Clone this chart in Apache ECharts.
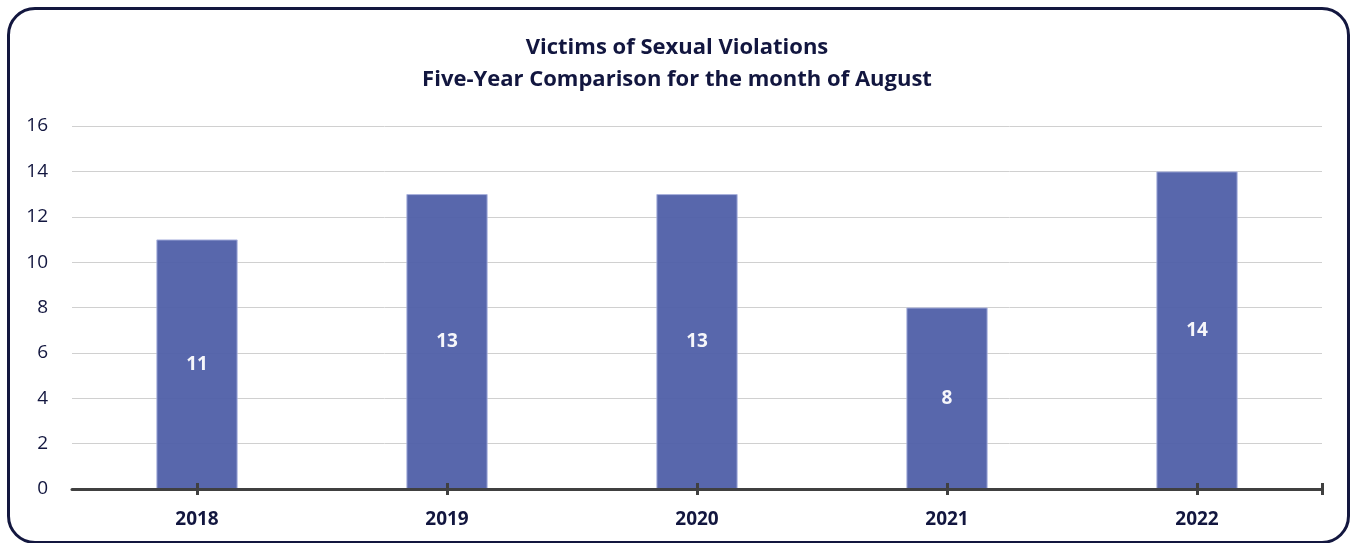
<!DOCTYPE html>
<html>
<head>
<meta charset="utf-8">
<script src="https://cdn.jsdelivr.net/npm/echarts@6/dist/echarts.min.js"></script>
<style>
html,body{margin:0;padding:0;background:#fff;}
#wrap{position:relative;width:1354px;height:543px;}
#chart{position:absolute;left:0;top:0;width:1354px;height:543px;}
#frame{position:absolute;left:7px;top:7px;width:1337px;height:531px;border:3px solid #13173f;border-radius:28px;pointer-events:none;}
</style>
</head>
<body>
<div id="wrap"><div id="chart"></div><div id="frame"></div></div>
<script>
var titleLines = ['Victims of Sexual Violations', 'Five-Year Comparison for the month of August'];
var categories = ['2018', '2019', '2020', '2021', '2022'];
var victims = [11, 13, 13, 8, 14];
var yTicks = [0, 2, 4, 6, 8, 10, 12, 14, 16];

var font = 'Open Sans, Lato, sans-serif';
var textColor = '#12163f';
var axisColor = '#404040';

var chart = echarts.init(document.getElementById('chart'));
chart.setOption({
  animation: false,
  title: {
    text: titleLines.join('\n'),
    left: 'center',
    top: 27,
    textStyle: { fontFamily: font, fontSize: 22, fontWeight: 'bold', color: textColor, lineHeight: 32 }
  },
  grid: { left: 72, right: 32, top: 126, bottom: 54 },
  xAxis: [
    {
      type: 'category',
      data: categories,
      axisLine: { show: true, lineStyle: { color: axisColor, width: 3 } },
      axisTick: { show: false },
      axisLabel: { fontFamily: font, fontSize: 19, fontWeight: 'bold', color: textColor, margin: 21 },
      z: 10
    },
    {
      type: 'category',
      data: categories,
      position: 'bottom',
      offset: 6,
      axisLine: { show: false },
      axisTick: { show: true, inside: true, alignWithLabel: true, length: 12, lineStyle: { color: axisColor, width: 3 } },
      axisLabel: { show: false },
      z: 10
    },
    {
      type: 'category',
      data: ['start', 'end'],
      boundaryGap: false,
      position: 'bottom',
      offset: 6,
      axisLine: { show: false },
      axisTick: { show: true, inside: true, length: 12, interval: function (i) { return i === 1; }, lineStyle: { color: axisColor, width: 3 } },
      axisLabel: { show: false },
      z: 10
    }
  ],
  yAxis: {
    type: 'value',
    min: yTicks[0],
    max: yTicks[yTicks.length - 1],
    interval: yTicks[1] - yTicks[0],
    axisLine: { show: false },
    axisTick: { show: false },
    axisLabel: { fontFamily: font, fontSize: 19, color: textColor, margin: 24 },
    splitLine: { lineStyle: { color: '#d0d0d0', width: 1 } }
  },
  series: [{
    type: 'bar',
    xAxisIndex: 0,
    data: victims,
    barWidth: '32.5%',
    itemStyle: { color: '#4f5fa8', opacity: 0.95, borderColor: '#a9b1dd', borderWidth: 1 },
    label: {
      show: true,
      position: 'inside',
      fontFamily: font,
      fontSize: 19,
      fontWeight: 'bold',
      color: '#ffffff'
    }
  }]
});
</script>
</body>
</html>
